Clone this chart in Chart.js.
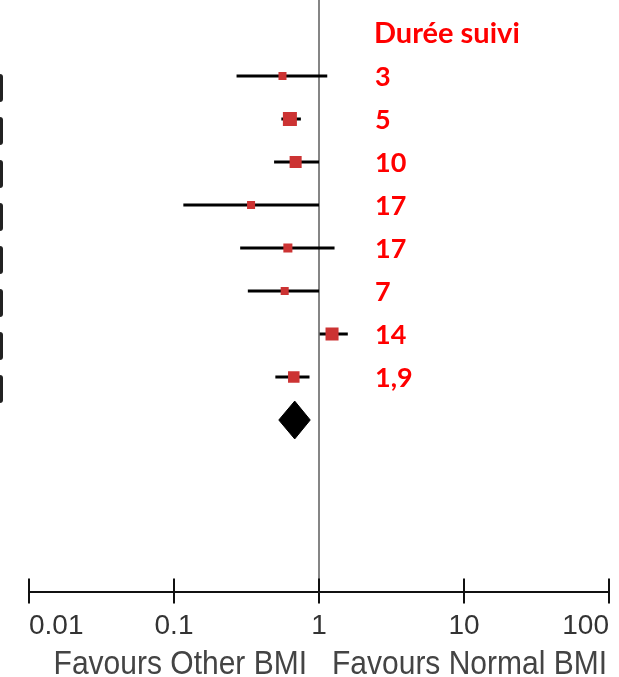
<!DOCTYPE html>
<html>
<head>
<meta charset="utf-8">
<script src="https://cdn.jsdelivr.net/npm/chart.js@4.4.1/dist/chart.umd.min.js"></script>
<style>
  html, body { margin: 0; padding: 0; background: #fff; }
  #forest { display: block; }
</style>
</head>
<body>
<canvas id="forest" width="619" height="677"></canvas>
<script>
  // Odds ratios per study, top to bottom, with 95% CI
  var estimates = [0.56, 0.63, 0.69, 0.34, 0.61, 0.58, 1.23, 0.67];
  var lower     = [0.27, 0.55, 0.49, 0.116, 0.286, 0.323, 1.01, 0.50];
  var upper     = [1.14, 0.75, 1.0, 1.0, 1.28, 1.0, 1.58, 0.86];
  // Study weights (%), drive the square size
  var weights   = [7.0, 21.4, 15.8, 7.0, 8.9, 7.0, 18.5, 14.4];
  // Follow-up duration (years)
  var followUp  = ['3', '5', '10', '17', '17', '7', '14', '1,9'];
  // Pooled estimate
  var pooled    = { est: 0.68, lo: 0.528, hi: 0.87 };

  var tickValues = [0.01, 0.1, 1, 10, 100];
  var tickLabels = ['0.01', '0.1', '1', '10', '100'];
  var followUpTitle = 'Durée suivi';
  var leftTitle = 'Favours Other BMI';
  var rightTitle = 'Favours Normal BMI';

  var Y_MIN = -1.77, Y_MAX = 12.01;
  var DIAMOND_HALF = 0.44;
  var pooledRow = estimates.length;

  var datasets = [];

  // squares
  datasets.push({
    data: estimates.map(function (v, i) { return { x: v, y: i }; }),
    pointStyle: 'rect',
    pointRadius: weights.map(function (w) { return 3.03 * Math.sqrt(w) / Math.SQRT2; }),
    backgroundColor: '#cc3333',
    borderWidth: 0,
    order: 0
  });

  // pooled diamond
  datasets.push({
    data: [
      { x: pooled.lo, y: pooledRow },
      { x: pooled.est, y: pooledRow - DIAMOND_HALF },
      { x: pooled.hi, y: pooledRow },
      { x: pooled.est, y: pooledRow + DIAMOND_HALF },
      { x: pooled.lo, y: pooledRow }
    ],
    showLine: true,
    fill: 'shape',
    backgroundColor: '#000',
    borderColor: '#000',
    borderWidth: 1,
    pointRadius: 0,
    order: 1
  });

  // confidence intervals
  estimates.forEach(function (v, i) {
    datasets.push({
      data: [{ x: lower[i], y: i }, { x: upper[i], y: i }],
      showLine: true,
      borderColor: '#000',
      borderWidth: 3,
      pointRadius: 0,
      order: 2
    });
  });

  // line of no effect
  datasets.push({
    data: [{ x: 1, y: Y_MIN }, { x: 1, y: Y_MAX }],
    showLine: true,
    borderColor: '#858585',
    borderWidth: 2,
    pointRadius: 0,
    order: 3
  });

  var extras = {
    id: 'extras',
    afterDraw: function (chart) {
      var ctx = chart.ctx;
      var xs = chart.scales.x, ys = chart.scales.y;
      ctx.save();

      // upper half of the axis ticks
      ctx.strokeStyle = '#111';
      ctx.lineWidth = 2;
      tickValues.forEach(function (v) {
        var px = Math.round(xs.getPixelForValue(v));
        ctx.beginPath();
        ctx.moveTo(px, xs.top - 14);
        ctx.lineTo(px, xs.top);
        ctx.stroke();
      });

      // clipped label edges on the left
      ctx.fillStyle = '#222';
      estimates.forEach(function (v, i) {
        var py = ys.getPixelForValue(i) + 12;
        ctx.beginPath();
        ctx.roundRect(-4, py - 14, 7, 28, 3);
        ctx.fill();
      });

      // follow-up column
      ctx.fillStyle = '#ff0000';
      ctx.textAlign = 'left';
      ctx.textBaseline = 'alphabetic';
      ctx.font = 'bold 29px Lato';
      ctx.fillText(followUpTitle, 374, ys.getPixelForValue(-1) + 10);
      ctx.font = 'bold 27px Lato';
      followUp.forEach(function (t, i) {
        ctx.fillText(t, 375, ys.getPixelForValue(i) + 10);
      });

      // favours labels
      var x1 = xs.getPixelForValue(1);
      ctx.fillStyle = '#444';
      ctx.font = '30px "Liberation Sans"';
      ctx.translate(0, 674);
      ctx.scale(1, 1.1);
      ctx.textAlign = 'right';
      ctx.fillText(leftTitle, x1 - 12, 0);
      ctx.textAlign = 'left';
      ctx.fillText(rightTitle, x1 + 13, 0);
      ctx.restore();
    }
  };

  new Chart(document.getElementById('forest'), {
    type: 'scatter',
    data: { datasets: datasets },
    options: {
      responsive: false,
      animation: false,
      devicePixelRatio: 1,
      layout: { autoPadding: false, padding: { left: 29, right: 10, top: 0, bottom: 28 } },
      plugins: { legend: { display: false }, tooltip: { enabled: false } },
      scales: {
        x: {
          type: 'logarithmic',
          min: 0.01,
          max: 100,
          afterBuildTicks: function (scale) {
            scale.ticks = tickValues.map(function (v) { return { value: v }; });
          },
          ticks: {
            autoSkip: false,
            maxRotation: 0,
            align: 'inner',
            padding: 6,
            color: '#333',
            font: { family: 'Liberation Sans', size: 28 },
            callback: function (value, index) { return tickLabels[index]; }
          },
          grid: { drawOnChartArea: false, tickLength: 11, color: '#111', lineWidth: 2 },
          border: { color: '#111', width: 2 }
        },
        y: {
          type: 'linear',
          reverse: true,
          min: Y_MIN,
          max: Y_MAX,
          display: false
        }
      }
    },
    plugins: [extras]
  });
</script>
</body>
</html>
